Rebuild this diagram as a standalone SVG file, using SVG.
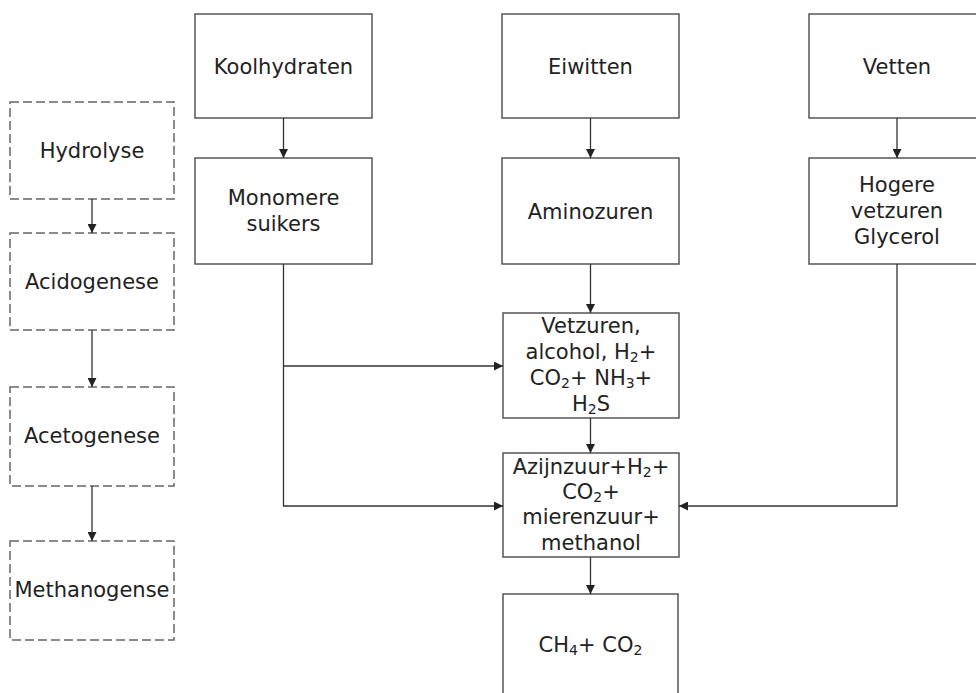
<svg xmlns="http://www.w3.org/2000/svg" width="976" height="693" viewBox="0 0 976 693">
  <style>
    .box { fill: #ffffff; stroke: #555555; stroke-width: 1.5; }
    .phase { fill: #ffffff; stroke: #666666; stroke-width: 1.5; stroke-dasharray: 9 4; }
    .lbl { font-family: "DejaVu Sans", Verdana, sans-serif; font-size: 21px; fill: #222222; text-anchor: middle; }
    .sub { font-size: 14px; }
    .wire { fill: none; stroke: #333333; stroke-width: 1.3; }
  </style>
  <defs>
    <marker id="arrow" viewBox="0 0 10 10" refX="10" refY="5" markerWidth="9" markerHeight="9" markerUnits="userSpaceOnUse" orient="auto">
      <path d="M0,0 L10,5 L0,10 z" fill="#222222"/>
    </marker>
  </defs>
  <rect width="976" height="693" fill="#ffffff"/>

  <!-- process phases (left column) -->
  <g id="hydrolyse">
    <rect class="phase" x="10" y="102" width="164" height="97"/>
    <text class="lbl" x="92" y="158">Hydrolyse</text>
  </g>
  <g id="acidogenese">
    <rect class="phase" x="10" y="233" width="164" height="97"/>
    <text class="lbl" x="92" y="289">Acidogenese</text>
  </g>
  <g id="acetogenese">
    <rect class="phase" x="10" y="387" width="164" height="99"/>
    <text class="lbl" x="92" y="443">Acetogenese</text>
  </g>
  <g id="methanogense">
    <rect class="phase" x="10" y="541" width="164" height="99"/>
    <text class="lbl" x="92" y="597">Methanogense</text>
  </g>

  <!-- substrates -->
  <g id="koolhydraten">
    <rect class="box" x="195" y="14" width="177" height="104"/>
    <text class="lbl" x="283.5" y="74">Koolhydraten</text>
  </g>
  <g id="eiwitten">
    <rect class="box" x="502" y="14" width="177" height="104"/>
    <text class="lbl" x="590.5" y="74">Eiwitten</text>
  </g>
  <g id="vetten">
    <rect class="box" x="809" y="14" width="176" height="104"/>
    <text class="lbl" x="897" y="74">Vetten</text>
  </g>

  <!-- hydrolysis products -->
  <g id="monomere-suikers">
    <rect class="box" x="195" y="158" width="177" height="106"/>
    <text class="lbl" x="283.5" y="205">Monomere</text>
    <text class="lbl" x="283.5" y="231">suikers</text>
  </g>
  <g id="aminozuren">
    <rect class="box" x="502" y="158" width="177" height="106"/>
    <text class="lbl" x="590.5" y="219">Aminozuren</text>
  </g>
  <g id="hogere-vetzuren">
    <rect class="box" x="809" y="158" width="176" height="106"/>
    <text class="lbl" x="897" y="192">Hogere</text>
    <text class="lbl" x="897" y="218">vetzuren</text>
    <text class="lbl" x="897" y="244">Glycerol</text>
  </g>

  <!-- intermediates -->
  <g id="vetzuren">
    <rect class="box" x="503" y="313" width="176" height="105"/>
    <text class="lbl" x="591" y="333">Vetzuren,</text>
    <text class="lbl" x="591" y="359">alcohol, H<tspan class="sub" dy="3">2</tspan><tspan dy="-3">+</tspan></text>
    <text class="lbl" x="591" y="385">CO<tspan class="sub" dy="3">2</tspan><tspan dy="-3">+ NH</tspan><tspan class="sub" dy="3">3</tspan><tspan dy="-3">+</tspan></text>
    <text class="lbl" x="591" y="411">H<tspan class="sub" dy="3">2</tspan><tspan dy="-3">S</tspan></text>
  </g>
  <g id="azijnzuur">
    <rect class="box" x="503" y="453" width="176" height="104"/>
    <text class="lbl" x="591" y="474">Azijnzuur+H<tspan class="sub" dy="3">2</tspan><tspan dy="-3">+</tspan></text>
    <text class="lbl" x="591" y="499">CO<tspan class="sub" dy="3">2</tspan><tspan dy="-3">+</tspan></text>
    <text class="lbl" x="591" y="524">mierenzuur+</text>
    <text class="lbl" x="591" y="550">methanol</text>
  </g>
  <g id="biogas">
    <rect class="box" x="503" y="594" width="175" height="104"/>
    <text class="lbl" x="590.5" y="652">CH<tspan class="sub" dy="3">4</tspan><tspan dy="-3">+ CO</tspan><tspan class="sub" dy="3">2</tspan></text>
  </g>

  <!-- connectors -->
  <g id="connectors">
    <line class="wire" x1="92" y1="199" x2="92" y2="233" marker-end="url(#arrow)"/>
    <line class="wire" x1="92" y1="330" x2="92" y2="387" marker-end="url(#arrow)"/>
    <line class="wire" x1="92" y1="486" x2="92" y2="541" marker-end="url(#arrow)"/>

    <line class="wire" x1="283.5" y1="118" x2="283.5" y2="158" marker-end="url(#arrow)"/>
    <line class="wire" x1="590.5" y1="118" x2="590.5" y2="158" marker-end="url(#arrow)"/>
    <line class="wire" x1="897" y1="118" x2="897" y2="158" marker-end="url(#arrow)"/>

    <line class="wire" x1="590.5" y1="264" x2="590.5" y2="313" marker-end="url(#arrow)"/>
    <line class="wire" x1="590.5" y1="418" x2="590.5" y2="453" marker-end="url(#arrow)"/>
    <line class="wire" x1="590.5" y1="557" x2="590.5" y2="594" marker-end="url(#arrow)"/>

    <polyline class="wire" points="283.5,264 283.5,506 503,506" marker-end="url(#arrow)"/>
    <line class="wire" x1="283.5" y1="366" x2="503" y2="366" marker-end="url(#arrow)"/>
    <polyline class="wire" points="897,264 897,506 679,506" marker-end="url(#arrow)"/>
  </g>
</svg>
